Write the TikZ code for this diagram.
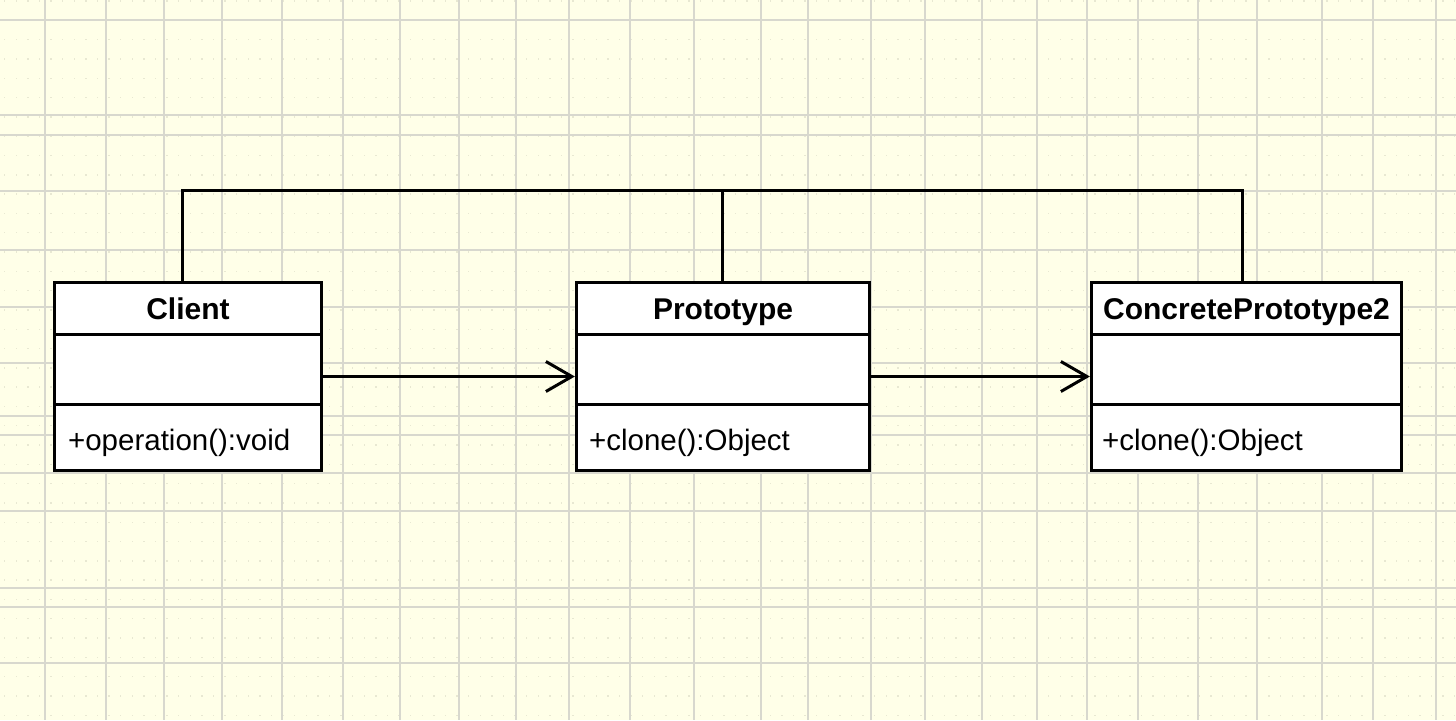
\documentclass[tikz,border=0pt]{standalone}
\usepackage{fontspec}
\setmainfont{Liberation Sans}
\usetikzlibrary{arrows.meta}
\definecolor{bg}{RGB}{255,255,232}
\definecolor{gridc}{RGB}{216,216,206}
\definecolor{dotc}{RGB}{232,232,210}
\begin{document}
\begin{tikzpicture}[x=1pt,y=-1pt,
  umlbox/.style={draw=black, line width=3.2pt, fill=white, inner sep=0pt},
  divline/.style={draw=black, line width=3pt},
  conn/.style={draw=black, line width=3pt, line join=miter},
  opentip/.style={-{Straight Barb[length=26pt,width=30pt]}},
  nametext/.style={font=\fontsize{30}{36}\selectfont\bfseries, anchor=base, inner sep=0pt},
  methtext/.style={font=\fontsize{29.5}{36}\selectfont, anchor=base west, inner sep=0pt},
  gridline/.style={draw=gridc, line width=1.8pt}]
\useasboundingbox (0,0) rectangle (1456,720);
\fill[bg] (0,0) rectangle (1456,720);
% faint dots
\foreach \i in {0,...,37} {
  \foreach \j in {0,...,125} {
    \fill[dotc] (\j*11.6+4,\i*19.3+0.4) rectangle ++(1.4,1.4);
  }
}
% grid
\foreach \x in {45,106,164,222,282,343,400,459,516,569,630,694,761,808,871,925,982,1037,1087,1138,1198,1257,1322,1373,1436}
  \draw[gridline] (\x,0) -- (\x,720);
\foreach \y in {20,115,135,191,250,307,363,416,435,473,511,588,607,663}
  \draw[gridline] (0,\y) -- (1456,\y);

% classes
\node[umlbox, minimum width=267pt, minimum height=188.5pt] (client) at (188,376.5) {};
\node[umlbox, minimum width=293pt, minimum height=188.5pt] (proto) at (723,376.5) {};
\node[umlbox, minimum width=310pt, minimum height=188.5pt] (cp) at (1246.5,376.5) {};

\foreach \b in {client,proto,cp} {
  \draw[divline] ([yshift=-53.75pt]\b.north west) -- ([yshift=-53.75pt]\b.north east);
  \draw[divline] ([yshift=-123.75pt]\b.north west) -- ([yshift=-123.75pt]\b.north east);
}

\node[nametext] (clientname) at ([yshift=-38.75pt]client.north) {Client};
\node[nametext] (protoname) at ([yshift=-38.75pt]proto.north) {Prototype};
\node[nametext] (cpname) at ([yshift=-38.75pt]cp.north) {ConcretePrototype2};

\node[methtext] (clientop) at ([xshift=15pt,yshift=21.75pt]client.south west) {+operation():void};
\node[methtext] (protoop) at ([xshift=14pt,yshift=21.75pt]proto.south west) {+clone():Object};
\node[methtext] (cpop) at ([xshift=12pt,yshift=21.75pt]cp.south west) {+clone():Object};

% connectors
\coordinate (cT) at (182,190);
\coordinate (pT) at (722,190);
\coordinate (qT) at (1242,190);
\draw[conn] (client.north -| cT) -- (cT) -- (qT) -- (cp.north -| qT);
\draw[conn] (pT) -- (proto.north -| pT);
\draw[conn, opentip] (client.east) -- (proto.west);
\draw[conn, opentip] (proto.east) -- (cp.west);
\end{tikzpicture}
\end{document}
